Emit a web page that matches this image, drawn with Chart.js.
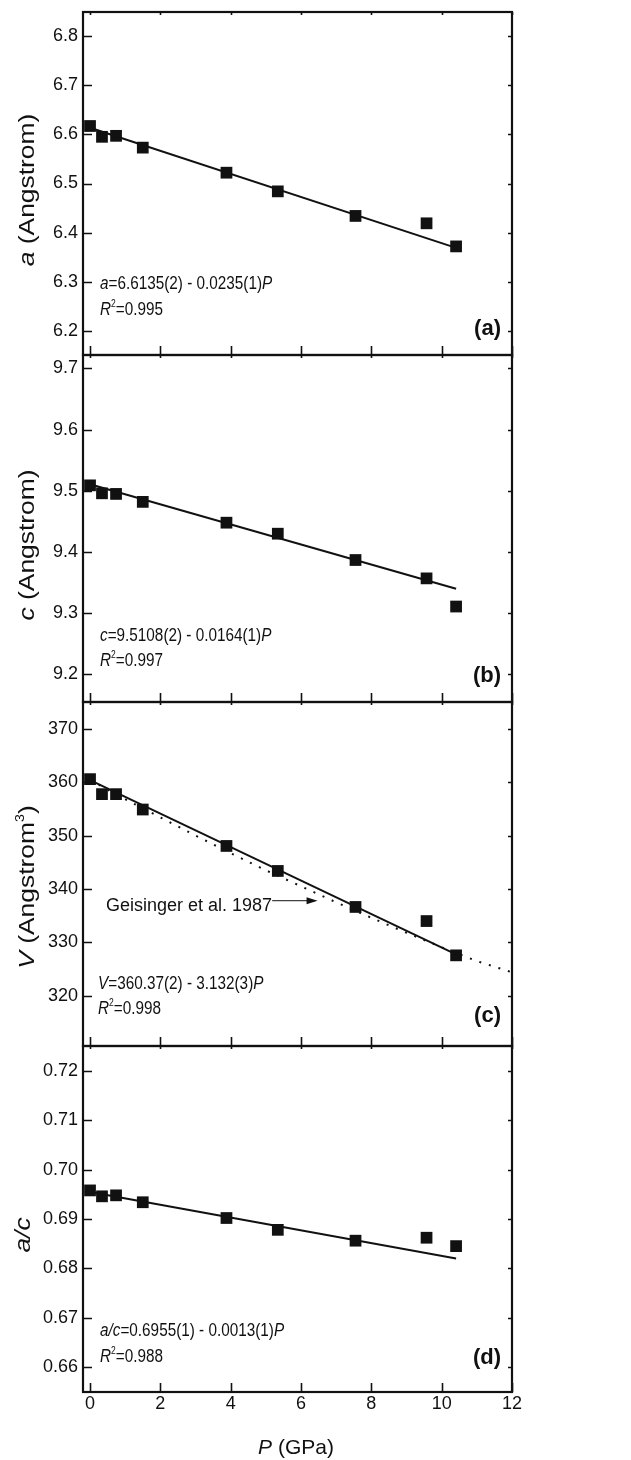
<!DOCTYPE html>
<html>
<head>
<meta charset="utf-8">
<title>Lattice parameters vs pressure</title>
<script src="https://cdn.jsdelivr.net/npm/chart.js@4.4.0/dist/chart.umd.min.js"></script>
<style>
  html, body { margin: 0; padding: 0; background: #fff; }
  #wrap { position: relative; width: 631px; height: 1460px; font-family: "Liberation Sans", Arial, sans-serif; color: #111; }
  #wrap canvas { position: absolute; left: 0; }
  .note { position: absolute; font-size: 18px; line-height: 1; white-space: nowrap; transform-origin: 0 50%; transform: translate(0, -50%) scaleX(0.85); }
  .note sup { font-size: 10px; vertical-align: 8px; }
  .ytitle { position: absolute; font-size: 22px; white-space: nowrap; transform: translate(-50%, -50%) rotate(-90deg) scaleX(1.2); }
  .ytitle sup { font-size: 12px; vertical-align: 10px; }
  .xtitle { position: absolute; font-size: 21px; white-space: nowrap; transform: translate(-50%, -50%); }
  .tag { position: absolute; font-size: 22px; font-weight: bold; transform: translate(-100%, -50%); }
  .ref { position: absolute; font-size: 18px; white-space: nowrap; transform: translate(-100%, -50%); }
</style>
</head>
<body>
<div id="wrap">
  <canvas id="ch-a" width="631" height="359" style="top:0px"></canvas>
  <canvas id="ch-c" width="631" height="355" style="top:351px"></canvas>
  <canvas id="ch-v" width="631" height="352" style="top:698px"></canvas>
  <canvas id="ch-ac" width="631" height="418" style="top:1042px"></canvas>

  <div class="ytitle" style="left:27px;top:190px"><i>a</i> (Angstrom)</div>
  <div class="ytitle" style="left:27px;top:545px"><i>c</i> (Angstrom)</div>
  <div class="ytitle" style="left:26px;top:887px"><i>V</i> (Angstrom<sup>3</sup>)</div>
  <div class="ytitle" style="left:23px;top:1235px"><i>a/c</i></div>

  <div class="note" style="left:100px;top:283px"><i>a</i>=6.6135(2) - 0.0235(1)<i>P</i></div>
  <div class="note" style="left:100px;top:308px"><i>R</i><sup>2</sup>=0.995</div>
  <div class="note" style="left:100px;top:635px"><i>c</i>=9.5108(2) - 0.0164(1)<i>P</i></div>
  <div class="note" style="left:100px;top:659px"><i>R</i><sup>2</sup>=0.997</div>
  <div class="note" style="left:98px;top:983px"><i>V</i>=360.37(2) - 3.132(3)<i>P</i></div>
  <div class="note" style="left:98px;top:1007px"><i>R</i><sup>2</sup>=0.998</div>
  <div class="note" style="left:100px;top:1330px"><i>a/c</i>=0.6955(1) - 0.0013(1)<i>P</i></div>
  <div class="note" style="left:100px;top:1355px"><i>R</i><sup>2</sup>=0.988</div>

  <div class="ref" style="left:272px;top:905px">Geisinger et al. 1987</div>

  <div class="tag" style="left:501px;top:328px">(a)</div>
  <div class="tag" style="left:501px;top:675px">(b)</div>
  <div class="tag" style="left:501px;top:1015px">(c)</div>
  <div class="tag" style="left:501px;top:1357px">(d)</div>

  <div class="xtitle" style="left:296px;top:1447px"><i>P</i> (GPa)</div>
</div>

<script>
// ── Data ───────────────────────────────────────────────────────────────
var pressure = [0, 0.34, 0.74, 1.50, 3.88, 5.34, 7.55, 9.57, 10.41];
var aValues  = [6.617, 6.595, 6.597, 6.573, 6.522, 6.484, 6.434, 6.419, 6.372];
var cValues  = [9.509, 9.496, 9.495, 9.482, 9.448, 9.430, 9.387, 9.357, 9.311];
var vValues  = [360.56, 357.75, 357.75, 354.87, 348.05, 343.37, 336.63, 333.99, 327.57];
var acValues = [0.6958, 0.6946, 0.6948, 0.6934, 0.6902, 0.6878, 0.6856, 0.6862, 0.6845];

// linear fits (end points)
var fitP  = [0, 10.41];
var aFit  = [6.6135, 6.369];
var cFit  = [9.5108, 9.340];
var vFit  = [360.37, 327.77];
var acFit = [0.6955, 0.6820];

// Geisinger et al. 1987 curve (dotted)
var geisP = [0, 1, 2, 3, 4, 5, 6, 7, 8, 9, 10, 11, 12];
var geisV = [360.4, 356.8, 353.4, 350.0, 346.7, 343.5, 340.5, 337.5, 334.6, 331.8, 329.1, 326.5, 324.4];

var xTicks  = [0, 2, 4, 6, 8, 10, 12];
var aTicks  = [6.2, 6.3, 6.4, 6.5, 6.6, 6.7, 6.8];
var cTicks  = [9.2, 9.3, 9.4, 9.5, 9.6, 9.7];
var vTicks  = [320, 330, 340, 350, 360, 370];
var acTicks = [0.66, 0.67, 0.68, 0.69, 0.70, 0.71, 0.72];

(function () {
  "use strict";

  var FONT = "'Liberation Sans', Arial, sans-serif";
  var INK = "#111";

  function pts(xs, ys) {
    return xs.map(function (x, i) { return { x: x, y: ys[i] }; });
  }

  // frame + inward tick marks on all four sides
  var framePlugin = {
    id: "frame",
    afterDraw: function (chart) {
      var ctx = chart.ctx, ca = chart.chartArea;
      var xs = chart.scales.x, ys = chart.scales.y;
      ctx.save();
      ctx.strokeStyle = INK;
      ctx.lineWidth = 1.6;
      ctx.beginPath();
      ys.ticks.forEach(function (t) {
        var py = Math.round(ys.getPixelForValue(t.value)) + 0.5;
        ctx.moveTo(ca.left, py); ctx.lineTo(ca.left + 9, py);
        ctx.moveTo(ca.right, py); ctx.lineTo(ca.right - 4, py);
      });
      xTicks.forEach(function (v) {
        var px = Math.round(xs.getPixelForValue(v)) + 0.5;
        ctx.moveTo(px, ca.bottom); ctx.lineTo(px, ca.bottom - 9);
        ctx.moveTo(px, ca.top); ctx.lineTo(px, ca.top + 3);
      });
      ctx.stroke();
      ctx.lineWidth = 2.2;
      ctx.strokeRect(ca.left, ca.top, ca.right - ca.left, ca.bottom - ca.top);

      // arrow for the Geisinger label (panel c only)
      var arrow = chart.options.plugins.frame && chart.options.plugins.frame.arrow;
      if (arrow) {
        var x0 = xs.getPixelForValue(arrow[0]), x1 = xs.getPixelForValue(arrow[1]);
        var y0 = ys.getPixelForValue(arrow[2]);
        ctx.lineWidth = 1;
        ctx.beginPath();
        ctx.moveTo(x0, y0); ctx.lineTo(x1 - 8, y0);
        ctx.stroke();
        ctx.fillStyle = INK;
        ctx.beginPath();
        ctx.moveTo(x1, y0); ctx.lineTo(x1 - 11, y0 - 3.5); ctx.lineTo(x1 - 11, y0 + 3.5);
        ctx.closePath();
        ctx.fill();
      }
      ctx.restore();
    }
  };

  function makePanel(id, cfg) {
    var canvas = document.getElementById(id);
    var datasets = [
      {
        data: pts(pressure, cfg.values),
        showLine: false,
        pointStyle: "rect",
        pointRadius: 8.3,
        pointBackgroundColor: INK,
        pointBorderColor: INK,
        pointBorderWidth: 0,
        order: 0
      },
      {
        data: pts(fitP, cfg.fit),
        showLine: true,
        borderColor: INK,
        borderWidth: 2,
        pointRadius: 0,
        order: 1
      }
    ];
    if (cfg.extra) datasets.push(cfg.extra);

    new Chart(canvas.getContext("2d"), {
      type: "scatter",
      data: { datasets: datasets },
      options: {
        responsive: false,
        animation: false,
        layout: {
          autoPadding: false,
          padding: { top: cfg.padTop, bottom: cfg.padBottom, left: 0, right: 119 }
        },
        plugins: {
          legend: { display: false },
          tooltip: { enabled: false },
          frame: { arrow: cfg.arrow || null }
        },
        scales: {
          x: {
            type: "linear",
            min: -0.2,
            max: 12,
            display: cfg.showX,
            afterBuildTicks: function (s) { s.ticks = xTicks.map(function (v) { return { value: v }; }); },
            afterFit: function (s) {
              if (cfg.showX) s.height = 68;
              s.paddingLeft = 0; s.paddingRight = 0;
            },
            grid: { drawOnChartArea: false, drawTicks: false },
            border: { display: false },
            ticks: { color: INK, font: { family: FONT, size: 18 }, padding: 1, maxRotation: 0 }
          },
          y: {
            type: "linear",
            min: cfg.min,
            max: cfg.max,
            afterBuildTicks: function (s) { s.ticks = cfg.ticks.map(function (v) { return { value: v }; }); },
            afterFit: function (s) { s.width = 83; s.paddingTop = 0; s.paddingBottom = 0; },
            grid: { drawOnChartArea: false, drawTicks: false },
            border: { display: false },
            ticks: {
              color: INK,
              font: { family: FONT, size: 18 },
              padding: 5,
              callback: function (v) { return Number(v).toFixed(cfg.digits); }
            }
          }
        }
      },
      plugins: [framePlugin]
    });
  }

  makePanel("ch-a", {
    values: aValues, fit: aFit, ticks: aTicks, min: 6.151, max: 6.849, digits: 1,
    padTop: 12, padBottom: 4, showX: false
  });
  makePanel("ch-c", {
    values: cValues, fit: cFit, ticks: cTicks, min: 9.155, max: 9.722, digits: 1,
    padTop: 4, padBottom: 4, showX: false
  });
  makePanel("ch-v", {
    values: vValues, fit: vFit, ticks: vTicks, min: 310.6, max: 375.0, digits: 0,
    padTop: 4, padBottom: 4, showX: false,
    arrow: [5.18, 6.47, 337.8],
    extra: {
      data: pts(geisP, geisV),
      showLine: true,
      borderColor: INK,
      borderWidth: 2,
      borderDash: [2, 8],
      pointRadius: 0,
      order: 2
    }
  });
  makePanel("ch-ac", {
    values: acValues, fit: acFit, ticks: acTicks, min: 0.6549, max: 0.7251, digits: 2,
    padTop: 4, padBottom: 0, showX: true
  });
})();
</script>
</body>
</html>
